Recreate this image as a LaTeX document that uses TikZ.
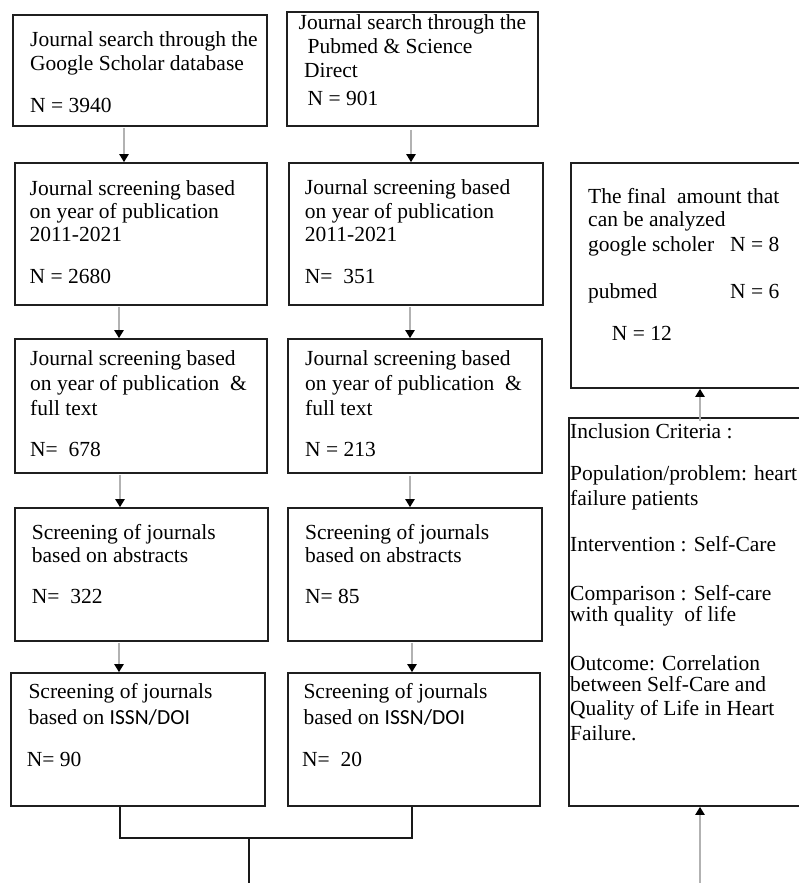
\documentclass[tikz,border=0pt]{standalone}
\usepackage{fontspec}
\setmainfont{Liberation Serif}
\newfontfamily\carl{Carlito}
\usetikzlibrary{arrows.meta,fit,calc}
\begin{document}
\begin{tikzpicture}[x=1pt,y=-1pt,
  box/.style={draw=black!88, line width=1.6pt, inner sep=0pt},
  txt/.style={anchor=base west, inner sep=0pt, font=\fontsize{21.5}{24}\selectfont, text=black},
  garr/.style={draw=black!30, line width=2.4pt, -{Triangle[length=8pt,width=9pt,color=black]}},
  conn/.style={draw=black!90, line width=1.4pt}]
\path[use as bounding box] (0,0) rectangle (799,883);
\clip (0,0) rectangle (799,883);
\fill[white] (0,0) rectangle (799,883);

% column coordinates
\coordinate (cA) at (124,0);
\coordinate (cB) at (411,0);
\coordinate (cL) at (119,0);
\coordinate (cR) at (410,0);
\coordinate (cI) at (120,0);
\coordinate (cJ) at (412,0);
\coordinate (cK) at (700,0);
\coordinate (jn) at (249,838);
\coordinate (pgbot) at (700,886);
\coordinate (jnbot) at (249,886);

% boxes
\node[box, fit={(13,15)(267,126)}] (A) {};
\node[box, fit={(287,12)(538,126)}] (B) {};
\node[box, fit={(15,163)(267,305)}] (C) {};
\node[box, fit={(289,163)(543,305)}] (D) {};
\node[box, fit={(15,339)(267,473)}] (E) {};
\node[box, fit={(288,339)(542,473)}] (F) {};
\node[box, fit={(15,508)(268,641)}] (G) {};
\node[box, fit={(288,508)(542,641)}] (H) {};
\node[box, fit={(11,673)(265,806)}] (I) {};
\node[box, fit={(288,673)(540,806)}] (J) {};
\node[box, fit={(571,163)(830,388)}] (K) {};
\node[box, fit={(569,418)(830,806)}] (L) {};

% texts A
\node[txt] (a1) at (30,46.7) {Journal search through the};
\node[txt] (a2) at (30,70.7) {Google Scholar database};
\node[txt] (a3) at (30,112.3) {N = 3940};
% B
\node[txt] (b1) at (298.5,30) {Journal search through the};
\node[txt] (b2) at (307.5,53.3) {Pubmed \& Science};
\node[txt] (b3) at (304,77.3) {Direct};
\node[txt] (b4) at (307.5,105) {N = 901};
% C
\node[txt] (c1) at (29.5,195) {Journal screening based};
\node[txt] (c2) at (29.5,218.3) {on year of publication};
\node[txt] (c3) at (29.5,241.7) {2011-2021};
\node[txt] (c4) at (29.5,283.3) {N = 2680};
% D
\node[txt] (d1) at (304.7,194.3) {Journal screening based};
\node[txt] (d2) at (304.7,218.3) {on year of publication};
\node[txt] (d3) at (304.7,241.7) {2011-2021};
\node[txt] (d4) at (304.7,283.3) {N=\ \ 351};
% E
\node[txt] (e1) at (30,365.7) {Journal screening based};
\node[txt] (e2) at (30,390) {on year of publication\ \ \&};
\node[txt] (e3) at (30,415) {full text};
\node[txt] (e4) at (30,456.7) {N=\ \ 678};
% F
\node[txt] (f1) at (305,365.7) {Journal screening based};
\node[txt] (f2) at (305,390) {on year of publication\ \ \&};
\node[txt] (f3) at (305,415) {full text};
\node[txt] (f4) at (305,456.7) {N = 213};
% G
\node[txt] (g1) at (31.7,539) {Screening of journals};
\node[txt] (g2) at (31.7,562.7) {based on abstracts};
\node[txt] (g3) at (31.7,603.3) {N=\ \ 322};
% H
\node[txt] (h1) at (305,539) {Screening of journals};
\node[txt] (h2) at (305,562.7) {based on abstracts};
\node[txt] (h3) at (305,603.3) {N= 85};
% I
\node[txt] (i1) at (28.3,698.3) {Screening of journals};
\node[txt] (i2) at (28.3,724) {based on {\carl ISSN/DOI}};
\node[txt] (i3) at (26.7,766.7) {N= 90};
% J
\node[txt] (j1) at (303.3,698.3) {Screening of journals};
\node[txt] (j2) at (303.3,724) {based on {\carl ISSN/DOI}};
\node[txt] (j3) at (302,766.7) {N=\ \ 20};
% K
\node[txt] (k1) at (588,203.3) {The final\ \ amount that};
\node[txt] (k2) at (588,226.7) {can be analyzed};
\node[txt] (k3) at (588,251.7) {google scholer};
\node[txt] (k4) at (730,251.7) {N = 8};
\node[txt] (k5) at (588,298.3) {pubmed};
\node[txt] (k6) at (730,298.3) {N = 6};
\node[txt] (k7) at (611.7,340) {N = 12};
% L
\node[txt] (l1) at (570,438.3) {Inclusion Criteria :};
\node[txt] (l2) at (570,480) {Population/problem: heart};
\node[txt] (l3) at (570,505) {failure patients};
\node[txt] (l4) at (570,551.7) {Intervention : Self-Care};
\node[txt] (l5) at (570,600) {Comparison : Self-care};
\node[txt] (l6) at (570,621.7) {with quality\ \ of life};
\node[txt] (l7) at (570,670) {Outcome: Correlation};
\node[txt] (l8) at (570,691.7) {between Self-Care and};
\node[txt] (l9) at (570,715) {Quality of Life in Heart};
\node[txt] (l10) at (570,740.7) {Failure.};

% arrows
\draw[garr] ($(cA |- A.south)+(0,1)$) -- (cA |- C.north);
\draw[garr] ($(cB |- B.south)+(0,3)$) -- (cB |- D.north);
\draw[garr] ($(cL |- C.south)+(0,1)$) -- (cL |- E.north);
\draw[garr] ($(cR |- D.south)+(0,1)$) -- (cR |- F.north);
\draw[garr] ($(cI |- E.south)+(0,1)$) -- (cI |- G.north);
\draw[garr] ($(cR |- F.south)+(0,2)$) -- (cR |- H.north);
\draw[garr] ($(cL |- G.south)+(0,1)$) -- (cL |- I.north);
\draw[garr] ($(cJ |- H.south)+(0,1)$) -- (cJ |- J.north);
\draw[garr] ($(cK |- L.north)+(0,4)$) -- (cK |- K.south);
\draw[garr] (pgbot) -- (cK |- L.south);

% bottom connector
\draw[conn] (cI |- I.south) |- (cJ |- jn) -- (cJ |- J.south);
\draw[conn] (jn) -- (jnbot);
\end{tikzpicture}
\end{document}
